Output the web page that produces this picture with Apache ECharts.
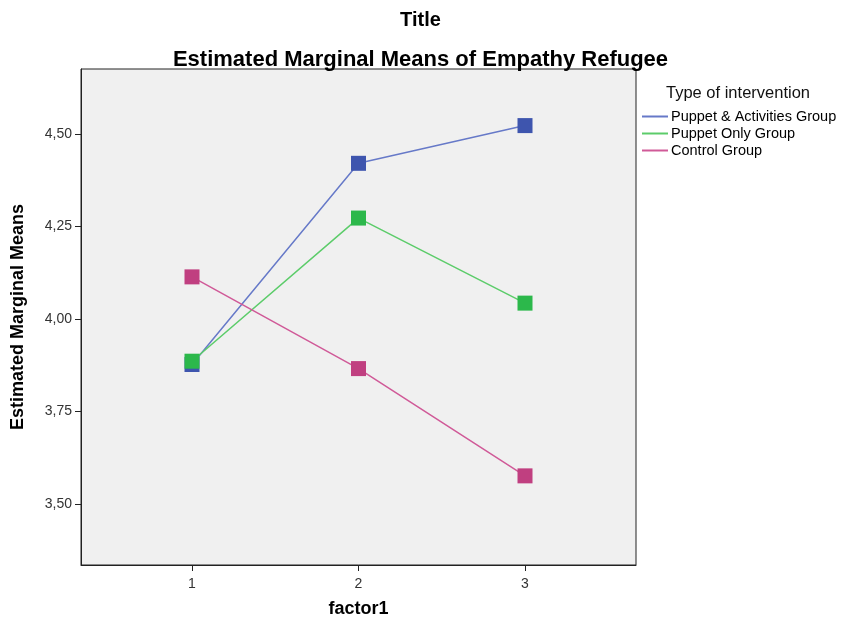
<!DOCTYPE html>
<html>
<head>
<meta charset="utf-8">
<script src="https://cdn.jsdelivr.net/npm/echarts@6/dist/echarts.min.js"></script>
<style>
html,body{margin:0;padding:0;background:#fff;}
#c{width:841px;height:623px;}
</style>
</head>
<body>
<div id="c"></div>
<script>
const factorLevels = [1, 2, 3];
const seriesNames = ['Puppet & Activities Group', 'Puppet Only Group', 'Control Group'];
const puppetActivities = [3.877, 4.421, 4.523];
const puppetOnly = [3.886, 4.273, 4.043];
const controlGroup = [4.114, 3.866, 3.576];
const yTicks = [3.50, 3.75, 4.00, 4.25, 4.50];

const markerColors = ['#3e55ae', '#2cb84b', '#c03f80'];
const lineColors = ['#6679c8', '#5ccc6a', '#d05a98'];
const values = [puppetActivities, puppetOnly, controlGroup];

const font = 'Liberation Sans, Arial, sans-serif';

const chart = echarts.init(document.getElementById('c'));
chart.setOption({
  backgroundColor: '#ffffff',
  animation: false,
  title: [
    {text: 'Title', left: 'center', top: 5, textStyle: {fontFamily: font, fontSize: 20, fontWeight: 'bold', color: '#000'}},
    {text: 'Estimated Marginal Means of Empathy Refugee', left: 'center', top: 44, textStyle: {fontFamily: font, fontSize: 22, fontWeight: 'bold', color: '#000'}},
    {text: 'Type of intervention', left: 661, top: 80, textStyle: {fontFamily: font, fontSize: 16.5, fontWeight: 'normal', color: '#111'}}
  ],
  legend: {
    left: 637, top: 104, orient: 'vertical', itemGap: 2,
    itemWidth: 26, itemHeight: 2, icon: 'rect',
    textStyle: {fontFamily: font, fontSize: 14.5, color: '#000', padding: [0,0,0,-2]},
    data: seriesNames.map((n, i) => ({name: n, itemStyle: {color: lineColors[i]}}))
  },
  grid: {left: 81, right: 205, top: 69, bottom: 58, containLabel: false, outerBoundsMode: 'none', show: true, backgroundColor: '#f0f0f0', borderColor: '#222', borderWidth: 1},
  xAxis: {
    type: 'value', min: 1/3, max: 11/3,
    name: 'factor1', nameLocation: 'middle', nameGap: 35,
    nameTextStyle: {fontFamily: font, fontSize: 18, fontWeight: 'bold', color: '#000'},
    axisLine: {show: true, lineStyle: {color: '#222'}},
    axisTick: {show: true, length: 6, customValues: factorLevels, lineStyle: {color: '#222'}},
    axisLabel: {customValues: factorLevels, fontFamily: font, fontSize: 14, color: '#333', margin: 12},
    splitLine: {show: false}
  },
  yAxis: {
    type: 'value', min: 3.335, max: 4.676,
    name: 'Estimated Marginal Means', nameLocation: 'middle', nameGap: 54, nameRotate: 90,
    nameTextStyle: {fontFamily: font, fontSize: 18, fontWeight: 'bold', color: '#000'},
    axisLine: {show: true, lineStyle: {color: '#222'}},
    axisTick: {show: true, length: 6, customValues: yTicks, lineStyle: {color: '#222'}},
    axisLabel: {customValues: yTicks, fontFamily: font, fontSize: 14, color: '#333', margin: 9,
      formatter: v => v.toFixed(2).replace('.', ',')},
    splitLine: {show: false}
  },
  series: seriesNames.map((n, i) => ({
    name: n, type: 'line',
    data: factorLevels.map((f, j) => [f, values[i][j]]),
    symbol: 'rect', symbolSize: 15,
    lineStyle: {color: lineColors[i], width: 1.5},
    itemStyle: {color: markerColors[i]},
    color: lineColors[i],
    z: 2 + i
  }))
});
</script>
</body>
</html>
